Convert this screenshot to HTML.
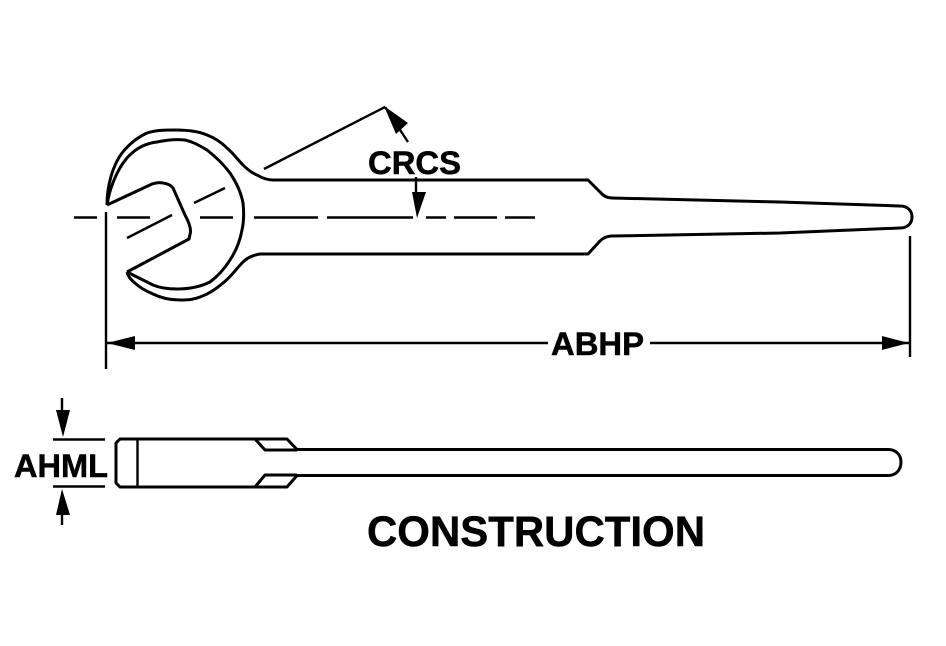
<!DOCTYPE html>
<html>
<head>
<meta charset="utf-8">
<style>
html,body{margin:0;padding:0;background:#fff;}
svg{display:block;}
text{font-family:"Liberation Sans",Arial,sans-serif;font-weight:bold;fill:#000;stroke:#000;stroke-width:0.5;}
</style>
</head>
<body>
<svg width="946" height="646" viewBox="0 0 946 646" xmlns="http://www.w3.org/2000/svg">
<rect width="946" height="646" fill="#fff"/>
<g fill="none" stroke="#000" stroke-width="3" stroke-linejoin="round" stroke-linecap="butt">
  <!-- wrench outer outline -->
  <path d="M107,205 C107,185 113,165 122,153 C130,143 138,137 147,133 C156,130 165,130 175,130 C187,130 198,131 207,135 C215,138 221,142 227,148 C233,153 238,160 243,165 C248,170 252,173 257,175 C262,178 268,180 273,180 L588,180 L600,192 Q605,198 612,198 L780,202 L900,206 C908,206 912,211 912,217 C912,223 908,228 900,228 L780,233 L612,236 Q605,236 600,241 L588,254 L260,254 C254,255 248,257 243,262 C236,269 231,277 223,283 C216,289 209,294 200,297 C193,300 187,300 180,300 C170,300 161,298 153,294 C146,291 140,288 135,283 C131,280 128,276 127,272"/>
  <!-- inner ring -->
  <path d="M107,205 C110,185 120,163 132,153 C140,146 148,143 157,142 C166,140 176,139 185,140 C194,142 200,146 207,150 C216,157 224,165 230,173 C236,182 241,192 243,203 C244,212 244,221 242,230 C240,241 236,251 230,260 C225,268 218,276 210,282 C200,287 189,289 177,289 C168,289 160,288 153,285 C145,281 135,276 127,272"/>
  <!-- jaw -->
  <path d="M107,205 L152,184 Q158,182 163,183 Q170,184 173,188 L185,215 Q191,226 190.5,232 L189,239 L127,272"/>
  <!-- lower view -->
  <path d="M120,439 L287,439 L297,449.5 L888,449.5 C896,449.5 901,455 901,462 C901,470 896,475.5 888,475.5 L297,475.5 L287,487 L120,487 L116,483 L116,443 Z"/>
  <path d="M255,439 L265,450 L297,450 M255,487 L265,475 L297,475"/>
  <path d="M137.5,439 V487" stroke-width="2.4"/>
</g>
<g fill="none" stroke="#000" stroke-width="2.4">
  <!-- centre line -->
  <path d="M74,217.5H97 M117,217.5H150 M200,217.5H233 M254,217.5H318 M327,217.5H413 M426,217.5H446 M454,217.5H497 M505,217.5H535"/>
  <!-- diagonal dashes -->
  <path d="M127,238 L172,215 M194,203 L225,188 M264,169 L385,107 M385,107 L408,142"/>
  <!-- CRCS arrow shaft -->
  <path d="M416,177 V200"/>
  <!-- extension lines -->
  <path d="M106,212 V369 M910,236 V357"/>
  <!-- ABHP dim -->
  <path d="M107,343 H548 M650,343 H909"/>
  <!-- AHML -->
  <path d="M53,439.5 H105 M53,486.5 H105 M62,398 V420 M62,505 V525"/>
</g>
<g fill="#000" stroke="none">
  <polygon points="384,106 408,123 396,134"/>
  <polygon points="412,192 426,192 417,218"/>
  <polygon points="107,343 135,336 135,350"/>
  <polygon points="909,343 882,336 882,350"/>
  <polygon points="56,410 70,410 63,437"/>
  <polygon points="56,515 70,515 62,489"/>
</g>
<text x="368" y="174" font-size="32" textLength="93" lengthAdjust="spacingAndGlyphs">CRCS</text>
<text x="551" y="355" font-size="32" textLength="93" lengthAdjust="spacingAndGlyphs">ABHP</text>
<text x="14" y="477" font-size="32" textLength="94" lengthAdjust="spacingAndGlyphs">AHML</text>
<text x="367" y="546" font-size="43" textLength="338" lengthAdjust="spacingAndGlyphs">CONSTRUCTION</text>
</svg>
</body>
</html>
